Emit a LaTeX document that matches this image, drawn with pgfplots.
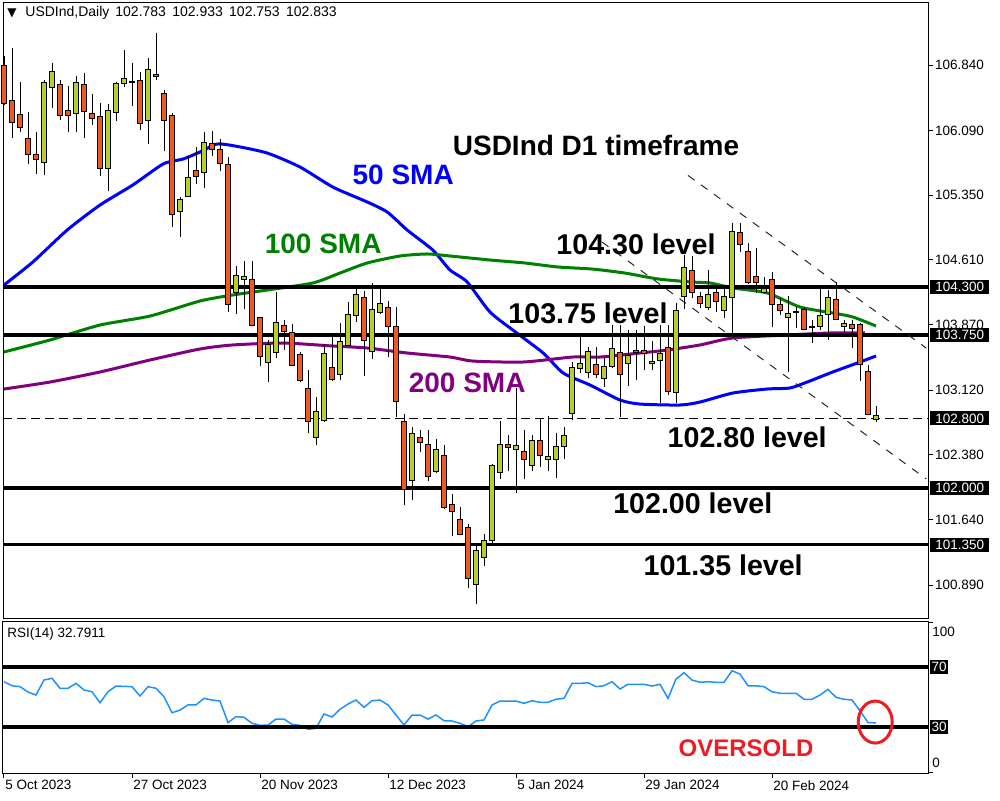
\documentclass[border=0pt]{standalone}
\usepackage{pgfplots}
\pgfplotsset{compat=1.18}
\usepackage{pgfplotstable}
\usepackage{fontspec}
\setmainfont{Liberation Sans}
\newfontfamily\djv{DejaVu Sans}
\definecolor{bull}{RGB}{184,206,46}
\definecolor{bear}{RGB}{238,88,35}
\definecolor{smablue}{RGB}{0,0,255}
\definecolor{smagreen}{RGB}{0,128,0}
\definecolor{smapurple}{RGB}{128,0,128}
\definecolor{rsiblue}{RGB}{30,144,255}
\definecolor{osred}{RGB}{237,28,36}
\newcommand\bigfont{\fontsize{14}{16}\selectfont\bfseries}
\newcommand\lvlfont{\fontsize{14.3}{16}\selectfont\bfseries}
\newcommand\smallfont{\fontsize{6.75}{8}\selectfont}
\tikzset{lvlbox/.style={fill=black, text=white, font=\smallfont, anchor=west, inner xsep=2.5pt, inner ysep=1.2pt, text height=4.9pt, text depth=0pt}}

\pgfplotstableread{
i O H L C b
0 106.840 106.943 106.383 106.397 0
1 106.436 107.031 106.002 106.185 0
2 106.276 106.642 106.077 106.127 0
3 106.002 106.299 105.711 105.819 0
4 105.819 106.070 105.597 105.757 0
5 105.727 106.665 105.582 106.642 1
6 106.585 106.863 106.352 106.768 1
7 106.615 106.665 106.208 106.265 0
8 106.322 106.600 106.077 106.265 0
9 106.288 106.714 106.077 106.642 1
10 106.619 106.745 106.008 106.311 0
11 106.288 106.505 106.154 106.230 0
12 106.253 106.402 105.574 105.658 0
13 105.658 106.391 105.402 106.322 1
14 106.299 106.642 106.203 106.631 1
15 106.631 107.012 106.592 106.688 1
16 106.646 106.860 106.375 106.642 0
17 106.665 106.757 106.100 106.169 0
18 106.208 106.917 105.940 106.791 1
19 106.734 107.203 106.665 106.711 0
20 106.517 106.551 105.860 106.208 0
21 106.265 106.288 104.990 105.132 0
22 105.166 105.333 104.876 105.304 1
23 105.338 105.803 105.330 105.555 1
24 105.635 105.902 105.482 105.562 0
25 105.613 106.070 105.430 105.956 1
26 105.944 106.089 105.803 105.868 0
27 105.876 105.994 105.627 105.716 0
28 105.704 105.788 104.011 104.102 0
29 104.235 104.540 103.988 104.437 1
30 104.388 104.598 104.045 104.423 1
31 104.388 104.598 103.851 103.862 0
32 103.954 103.960 103.391 103.507 0
33 103.439 103.690 103.210 103.637 1
34 103.553 104.246 103.484 103.896 1
35 103.862 103.919 103.576 103.789 0
36 103.782 103.873 103.393 103.404 0
37 103.530 103.553 103.210 103.228 0
38 103.141 103.347 102.626 102.759 0
39 102.580 103.038 102.492 102.878 1
40 102.775 103.645 102.759 103.542 1
41 103.381 103.748 103.225 103.244 0
42 103.301 103.885 103.233 103.679 1
43 103.629 104.125 103.620 103.988 1
44 103.976 104.274 103.896 104.217 1
45 104.182 104.254 103.285 103.690 0
46 103.564 104.343 103.480 104.045 1
47 104.011 104.285 103.988 104.114 1
48 104.068 104.137 103.496 103.851 0
49 103.851 104.068 102.809 102.992 0
50 102.764 102.844 101.802 101.985 0
51 102.088 102.695 101.866 102.626 1
52 102.580 102.661 102.409 102.523 0
53 102.500 102.661 102.077 102.134 0
54 102.191 102.558 102.169 102.443 1
55 102.374 102.489 101.757 101.780 0
56 101.814 101.928 101.457 101.734 0
57 101.642 101.780 101.459 101.471 0
58 101.551 101.585 100.853 100.967 0
59 100.898 101.333 100.670 101.288 1
60 101.207 101.471 101.104 101.402 1
61 101.402 102.271 101.368 102.260 1
62 102.180 102.764 102.100 102.500 1
63 102.500 102.603 102.191 102.466 0
64 102.443 103.141 101.940 102.489 1
65 102.420 102.661 102.100 102.329 0
66 102.260 102.603 102.191 102.546 1
67 102.546 102.798 102.244 102.378 0
68 102.329 102.824 102.198 102.363 1
69 102.329 102.626 102.111 102.477 1
70 102.477 102.702 102.332 102.603 1
71 102.855 103.445 102.778 103.381 1
72 103.370 103.732 103.313 103.427 1
73 103.320 103.610 103.256 103.560 1
74 103.408 103.610 103.256 103.301 0
75 103.251 103.503 103.159 103.396 1
76 103.388 103.865 103.370 103.599 1
77 103.548 103.865 102.816 103.301 0
78 103.427 103.808 103.162 103.519 1
79 103.579 103.808 103.236 103.551 0
80 103.574 103.854 103.350 103.545 0
81 103.427 103.682 103.350 103.453 1
82 103.465 103.865 102.969 103.545 1
83 103.608 103.865 103.064 103.102 0
84 103.093 104.114 102.969 104.034 1
85 104.197 104.666 104.052 104.529 1
86 104.489 104.651 104.180 104.232 0
87 104.189 104.246 104.056 104.114 0
88 104.068 104.495 104.037 104.209 1
89 104.240 104.285 104.018 104.137 0
90 104.026 104.300 103.942 104.194 1
91 104.182 105.029 103.770 104.933 1
92 104.926 105.036 104.704 104.781 0
93 104.704 104.800 104.340 104.350 0
94 104.418 104.743 104.228 104.354 0
95 104.240 104.418 104.228 104.285 1
96 104.388 104.475 103.837 104.102 0
97 104.102 104.171 103.980 104.037 0
98 103.954 104.197 103.331 103.999 1
99 104.018 104.075 103.828 104.014 0
100 104.045 104.075 103.808 103.816 0
101 103.846 103.923 103.656 103.842 0
102 103.846 104.285 103.808 103.976 1
103 103.988 104.266 103.694 104.182 1
104 104.159 104.361 103.923 103.931 0
105 103.846 103.923 103.789 103.885 1
106 103.873 103.923 103.599 103.828 0
107 103.873 103.885 103.228 103.408 0
108 103.331 103.408 102.836 102.847 0
109 102.783 102.933 102.753 102.833 1
}\candles

\pgfplotstableread{
i v
0 104.323
3.6 104.586
7.9 104.952
12 105.238
16.1 105.467
19.9 105.708
22.4 105.765
24.5 105.845
26.6 105.936
28.9 105.913
32.9 105.833
37 105.673
41.1 105.444
45.4 105.273
47.9 105.158
50.4 104.952
53.6 104.723
55.75 104.495
57.9 104.357
60.75 104.014
64.1 103.774
67.4 103.545
69.9 103.316
73.25 103.179
77 103.007
79.5 102.961
84.5 102.950
87 102.984
91.1 103.087
95.4 103.133
98.25 103.145
100.4 103.213
103.6 103.328
107 103.442
109 103.511
}\smaA

\pgfplotstableread{
i v
0 103.557
5.75 103.694
12 103.865
18.25 103.968
24.5 104.140
28.6 104.209
32.9 104.266
38.6 104.346
42 104.460
45.4 104.575
49.5 104.655
52.9 104.678
55.75 104.655
60.75 104.609
65.1 104.575
69.25 104.529
73.5 104.506
77.6 104.460
81.75 104.392
86 104.357
88.25 104.346
91.1 104.289
95.4 104.232
99.5 104.071
103.6 104.003
106.1 103.957
109 103.854
}\smaB

\pgfplotstableread{
i v
0 103.133
5.75 103.213
12 103.328
18.25 103.465
24.5 103.591
28.6 103.637
34.9 103.659
41.1 103.625
45.4 103.602
50.4 103.545
55.75 103.499
58.6 103.453
64.9 103.442
71.1 103.499
74.5 103.499
79.5 103.545
82.9 103.579
87 103.637
91.1 103.717
97.9 103.751
103.25 103.774
107.6 103.774
}\smaC

\pgfplotstableread{
i v
0 60.2
1 57.5
2 56.9
3 53.3
4 51.3
5 61.3
6 62.5
7 55.8
8 55.8
9 59.1
10 54.7
11 53.5
12 46.2
13 53.5
14 57.3
15 57.1
16 56.9
17 50.7
18 56.9
19 55.8
20 50.2
21 39.5
22 41.3
23 44.7
24 44.7
25 49.1
26 48.0
27 47.3
28 32.9
29 36.9
30 36.5
31 32.5
32 31.1
33 31.3
34 35.3
35 35.3
36 31.8
37 31.1
38 28.5
39 29.1
40 38.7
41 36.7
42 41.8
43 45.3
44 48.0
45 43.1
46 47.5
47 48.0
48 44.7
49 38.0
50 31.3
51 38.0
52 38.0
53 35.3
54 38.0
55 34.2
56 34.0
57 32.5
58 30.2
59 34.0
60 34.7
61 44.7
62 47.3
63 47.3
64 47.3
65 45.8
66 47.5
67 46.5
68 46.5
69 48.5
70 49.1
71 59.1
72 59.1
73 59.5
74 56.9
75 57.5
76 60.2
77 55.3
78 58.5
79 58.5
80 58.5
81 57.3
82 58.5
83 49.1
84 62.0
85 66.2
86 61.3
87 59.8
88 60.2
89 59.8
90 59.8
91 67.5
92 65.3
93 57.5
94 57.5
95 56.9
96 53.5
97 52.5
98 52.5
99 52.5
100 48.5
101 48.5
102 51.3
103 55.1
104 49.8
105 48.5
106 48.0
107 40.9
108 32.9
109 32.8
}\rsi

\begin{document}
\begin{tikzpicture}
\useasboundingbox (0,0) rectangle (500pt,400pt);
% ---------------- main price panel ----------------
\begin{axis}[
  at={(1.5pt,91pt)}, anchor=south west, scale only axis,
  width=462.5pt, height=308pt,
  xmin=-0.125, xmax=115.5, ymin=100.513, ymax=107.561,
  xtick=\empty,
  ytick={100.89,101.64,102.38,103.12,103.87,104.61,105.35,106.09,106.84},
  ytick pos=right, yticklabel pos=right, tick align=outside,
  major tick length=2.5pt, scaled y ticks=false,
  yticklabel style={font=\smallfont, anchor=west, inner sep=0pt, xshift=0.8pt,
    /pgf/number format/fixed, /pgf/number format/fixed zerofill,
    /pgf/number format/precision=3, /pgf/number format/assume math mode=true},
  axis line style={black, line width=0.5pt},
  tick style={black, line width=0.5pt},
  clip=false,
]
\addplot[scatter, only marks, mark=*, mark size=0pt, mark options={draw=none, fill=none},
  visualization depends on={\thisrow{H}-\thisrow{L} \as \cwk},
  visualization depends on={\thisrow{O}-\thisrow{L} \as \cob},
  visualization depends on={\thisrow{C}-\thisrow{L} \as \ccb},
  visualization depends on={\thisrow{b} \as \cisb},
  scatter/@pre marker code/.code={%
    \ifdim\cisb pt>0.5pt \def\fc{bull}\else\def\fc{bear}\fi
    \draw[black, line width=0.5pt] (0pt,0pt) -- (axis direction cs:0,\cwk);
    \draw[black, line width=0.5pt, fill=\fc] (axis direction cs:-0.28,\cob) rectangle (axis direction cs:0.28,\ccb);
  },
  scatter/@post marker code/.code={},
] table[x=i, y=L] {\candles};

\addplot[smablue, line width=1.5pt, smooth, tension=0.4] table[x=i,y=v] {\smaA};
\addplot[smagreen, line width=1.5pt, smooth, tension=0.4] table[x=i,y=v] {\smaB};
\addplot[smapurple, line width=1.5pt, smooth, tension=0.4] table[x=i,y=v] {\smaC};

\addplot[black, line width=1.6pt] coordinates {(-0.125,104.3) (115.5,104.3)};
\addplot[black, line width=1.6pt] coordinates {(-0.125,103.75) (115.5,103.75)};
\addplot[black, line width=1.6pt] coordinates {(-0.125,102.0) (115.5,102.0)};
\addplot[black, line width=1.6pt] coordinates {(-0.125,101.35) (115.5,101.35)};
\addplot[black, line width=0.5pt, dash pattern=on 4.5pt off 2.5pt] coordinates {(-0.125,102.8) (115.5,102.8)};
\addplot[black!85, line width=0.5pt, dash pattern=on 4pt off 4pt] coordinates {(85.5,105.577) (115.3,103.600)};
\addplot[black!85, line width=0.5pt, dash pattern=on 4pt off 4pt] coordinates {(74.75,104.815) (115.3,102.103)};

\node[font=\bigfont] at (axis cs:74,105.925) {USDInd D1 timeframe};
\node[font=\bigfont, text=smablue] at (axis cs:49.9,105.582) {50 SMA};
\node[font=\bigfont, text=smagreen] at (axis cs:39.9,104.792) {100 SMA};
\node[font=\bigfont, text=smapurple] at (axis cs:57.9,103.202) {200 SMA};
\node[font=\lvlfont] at (axis cs:79,104.792) {104.30 level};
\node[font=\lvlfont] at (axis cs:73,104.003) {103.75 level};
\node[font=\lvlfont] at (axis cs:92.9,102.584) {102.80 level};
\node[font=\lvlfont] at (axis cs:86.1,101.829) {102.00 level};
\node[font=\lvlfont] at (axis cs:89.9,101.119) {101.35 level};

\coordinate (B1) at (axis cs:115.5,104.3);
\coordinate (B2) at (axis cs:115.5,103.75);
\coordinate (B3) at (axis cs:115.5,102.8);
\coordinate (B4) at (axis cs:115.5,102.0);
\coordinate (B5) at (axis cs:115.5,101.35);
\end{axis}

% ---------------- RSI panel ----------------
\begin{axis}[
  at={(1.5pt,13.5pt)}, anchor=south west, scale only axis,
  width=462.5pt, height=76pt,
  xmin=-0.125, xmax=115.5, ymin=-0.667, ymax=100.667,
  xtick={0,16,32,48,64,80,96},
  xticklabels={5 Oct 2023,27 Oct 2023,20 Nov 2023,12 Dec 2023,5 Jan 2024,29 Jan 2024,20 Feb 2024},
  xtick pos=bottom, ytick pos=right,
  xticklabel style={font=\smallfont, anchor=north west, inner sep=0pt, xshift=0.5pt, yshift=-1pt},
  ytick={0,100}, yticklabels={},
  tick align=outside, major tick length=2.5pt,
  axis line style={black, line width=0.5pt},
  tick style={black, line width=0.5pt},
  clip=false,
]
\addplot[rsiblue, line width=0.75pt] table[x=i,y=v] {\rsi};
\addplot[black, line width=1.6pt] coordinates {(-0.125,70) (115.5,70)};
\addplot[black, line width=1.6pt] coordinates {(-0.125,30) (115.5,30)};
\node[font=\fontsize{12}{14}\selectfont\bfseries, text=osred] at (axis cs:92.75,16) {OVERSOLD};
\draw[osred, line width=1.5pt] (axis cs:108.9,33.3) ellipse [x radius=8.5pt, y radius=10.5pt];
\coordinate (R1) at (axis cs:115.5,70);
\coordinate (R2) at (axis cs:115.5,30);
\end{axis}

\node[lvlbox, xshift=1pt] at (B1) {104.300};
\node[lvlbox, xshift=1pt] at (B2) {103.750};
\node[lvlbox, xshift=1pt] at (B3) {102.800};
\node[lvlbox, xshift=1pt] at (B4) {102.000};
\node[lvlbox, xshift=1pt] at (B5) {101.350};
\node[lvlbox, xshift=1pt, inner xsep=0.6pt] at (R1) {70};
\node[lvlbox, xshift=1pt, inner xsep=0.6pt] at (R2) {30};
\node[font=\smallfont, anchor=west, inner sep=0pt] at (466pt,84pt) {100};
\node[font=\smallfont, anchor=west, inner sep=0pt] at (466pt,18.5pt) {0};
\node[font=\smallfont, anchor=west, inner sep=0pt] at (3.5pt,83pt) {RSI(14) 32.7911};
\node[font=\djv\fontsize{6}{7}\selectfont, inner sep=0pt] at (6pt,393.5pt) {▼};
\node[font=\fontsize{7}{8}\selectfont, anchor=west, inner sep=0pt] at (12.5pt,393.5pt) {USDInd,Daily\hspace{3pt}102.783\hspace{1.2pt} 102.933\hspace{1.2pt} 102.753\hspace{1.2pt} 102.833};
\end{tikzpicture}
\end{document}
